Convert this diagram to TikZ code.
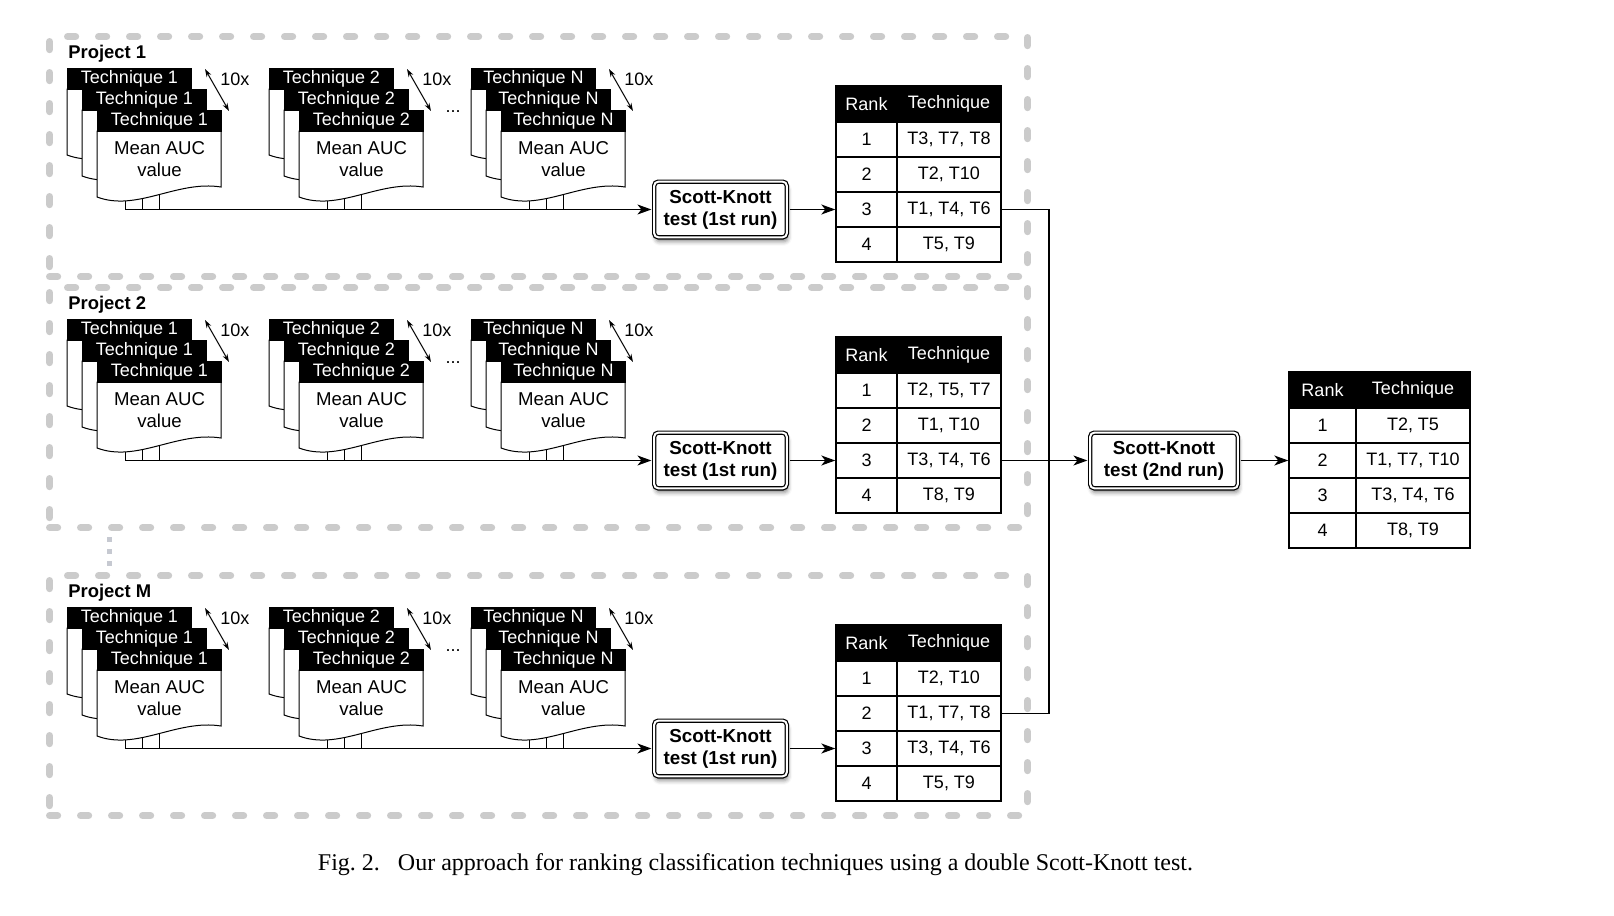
\documentclass[tikz,border=0pt]{standalone}
\usepackage{fontspec}
\setmainfont{Liberation Serif}
\setsansfont{Liberation Sans}
\usetikzlibrary{arrows.meta,shadows.blur}
\definecolor{dashgrey}{HTML}{CBCBCB}
\definecolor{dotgrey}{HTML}{C6C9D1}
\tikzset{
  txt/.style={font=\sffamily\fontsize{9}{10.8}\selectfont},
  projbox/.style={draw=dashgrey,line width=3.6pt,line cap=round,dash pattern=on 4pt off 11.5pt,
    inner sep=0pt,anchor=north west,minimum width=489pt,minimum height=120pt},
  projlab/.style={font=\sffamily\bfseries\fontsize{9.2}{11}\selectfont,anchor=west,inner sep=0pt},
  dochead/.style={txt,fill=black,draw=black,line width=0.5pt,text=white,anchor=north west,
    minimum width=62pt,minimum height=10.5pt,inner sep=0pt},
  docbody/.style={draw=black,fill=white,line width=0.5pt},
  doctext/.style={font=\sffamily\fontsize{9.3}{11}\selectfont,align=center,inner sep=0pt},
  stem/.style={draw=black,line width=0.5pt},
  rep/.style={{Stealth[length=4pt,width=2.6pt]}-{Stealth[length=4pt,width=2.6pt]},line width=0.5pt},
  flow/.style={-{Stealth[length=7pt,width=5pt,inset=2pt]},line width=0.6pt},
  link/.style={line width=0.6pt},
  sk/.style={font=\sffamily\bfseries\fontsize{9.4}{11}\selectfont,align=center,draw=black,
    line width=0.6pt,double,double distance=1pt,rounded corners=2pt,fill=white,
    minimum height=27.8pt,inner sep=0pt,
    blur shadow={shadow xshift=0.6pt,shadow yshift=-2.2pt,shadow blur radius=2pt,shadow opacity=45}},
  rankhead/.style={txt,fill=black,draw=black,line width=0.7pt,text=white,minimum height=18pt,inner sep=0pt},
  rankcell/.style={txt,fill=white,draw=black,line width=0.7pt,minimum height=17.5pt,inner sep=0pt},
  dots/.style={draw=dotgrey,line width=2.5pt,dash pattern=on 2.5pt off 3.5pt},
  figcap/.style={font=\fontsize{12}{14}\selectfont,inner sep=0pt},
}

\begin{document}
\begin{tikzpicture}[x=0.5pt,y=-0.5pt]
  \useasboundingbox (0,0) rectangle (1614,916);
  % --- one block per project: stacks, first Scott-Knott run, ranking ---
  \foreach \pj/\dy/\ra/\rb/\rc/\rd in {
      1/0/{T3, T7, T8}/{T2, T10}/{T1, T4, T6}/{T5, T9},
      2/251/{T2, T5, T7}/{T1, T10}/{T3, T4, T6}/{T8, T9},
      M/539/{T2, T10}/{T1, T7, T8}/{T3, T4, T6}/{T5, T9}}{
    \node[projbox] (proj\pj) at (46,33+\dy) {};
    \node[projlab] (lab\pj) at (68,54+\dy) {Project \pj};
    \foreach \st/\tn in {0/1,1/2,2/N}{
      \foreach \k in {0,1,2}{
        \pgfmathsetmacro\X{67+202*\st+15*\k}
        \pgfmathsetmacro\Y{68+21*\k+\dy}
        \draw[stem] (\X+58+2*\k,\Y+80) -- (\X+58+2*\k,209.5+\dy);
        \draw[docbody] (\X,\Y+21) -- (\X,\Y+87) .. controls (\X+40,\Y+102) and (\X+80,\Y+70) .. (\X+124,\Y+77)
          -- (\X+124,\Y+21) -- cycle;
        \node[dochead] (d\pj-\st-\k) at (\X,\Y) {Technique \tn};
      }
      \node[doctext] at ([shift={(0,27)}]d\pj-\st-2.south) {Mean AUC\\value};
      \draw[rep] ([shift={(13,1)}]d\pj-\st-0.north east) -- ([shift={(37,43)}]d\pj-\st-0.north east);
      \node[txt,anchor=west,inner sep=0pt] at ([shift={(28,11)}]d\pj-\st-0.north east) {10x};
    }
    \node[txt,anchor=base,inner sep=0pt] at (453,112+\dy) {...};
    \node[sk,minimum width=66.3pt] (sk\pj) at (720.5,209.5+\dy) {Scott-Knott\\test (1st run)};
    \coordinate (feet\pj) at (125,209.5+\dy);
    \draw[flow,shorten >=1.1pt] (feet\pj) -- (sk\pj.west);
    \node[rankhead,minimum width=30.5pt] (tab\pj-0-1) at (866.5,104+\dy) {Rank};
    \node[rankhead,minimum width=52pt] (tab\pj-0-2) at (949,104+\dy) {Technique};
    \foreach \rw/\tq in {1/\ra,2/\rb,3/\rc,4/\rd}{
      \node[rankcell,minimum width=30.5pt] (tab\pj-\rw-1) at (866.5,104.5+35*\rw+\dy) {\rw};
      \node[rankcell,minimum width=52pt] (tab\pj-\rw-2) at (949,104.5+35*\rw+\dy) {\tq};
    }
    \draw[flow,shorten <=1.1pt] (sk\pj.east) -- (tab\pj-3-1.west);
  }
  \draw[dots,shorten <=3pt,shorten >=3pt] ([xshift=31.5pt]proj2.south west) -- ([xshift=31.5pt]projM.north west);

  % --- second Scott-Knott run over the per-project ranks ---
  \node[sk,minimum width=73.8pt] (skfin) at (1164,460.5) {Scott-Knott\\test (2nd run)};
  \node[rankhead,minimum width=33.5pt] (fin-0-1) at (1322.5,390) {Rank};
  \node[rankhead,minimum width=57pt] (fin-0-2) at (1413,390) {Technique};
  \foreach \rw/\tq in {1/{T2, T5},2/{T1, T7, T10},3/{T3, T4, T6},4/{T8, T9}}{
    \node[rankcell,minimum width=33.5pt] (fin-\rw-1) at (1322.5,390.5+35*\rw) {\rw};
    \node[rankcell,minimum width=57pt] (fin-\rw-2) at (1413,390.5+35*\rw) {\tq};
  }
  \coordinate (bus) at (1049,460.5);
  \draw[link] (tab1-3-2.east) -| (bus) |- (tabM-2-2.east);
  \draw[flow,shorten >=1.1pt] (tab2-3-2.east) -- (skfin.west);
  \draw[flow,shorten <=1.1pt] (skfin.east) -- (fin-2-1.west);

  \node[figcap] (cap) at (755.5,865) {Fig.~2.\hspace{0.75em}Our approach for ranking classification techniques using a double Scott-Knott test.};
\end{tikzpicture}
\end{document}
